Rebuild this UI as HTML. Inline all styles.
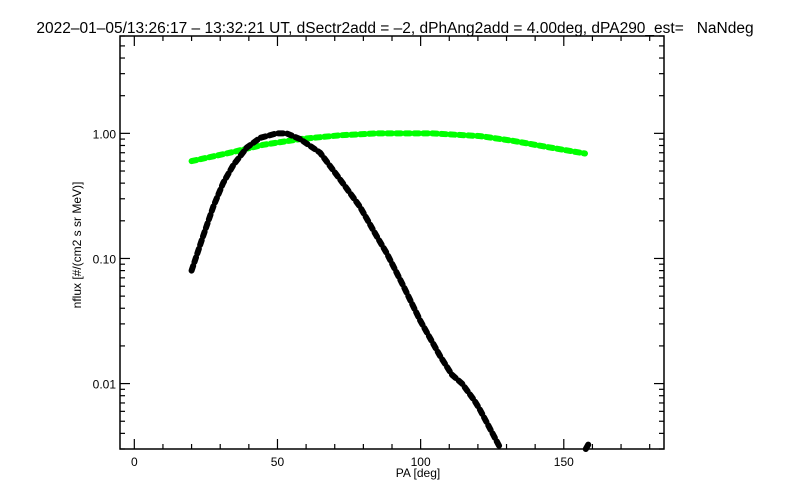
<!DOCTYPE html>
<html><head><meta charset="utf-8"><style>
body{margin:0;background:#fff;}
svg{display:block;font-family:"Liberation Sans",sans-serif;}
</style></head><body>
<svg id="chart" width="800" height="500">
<text x="395" y="33" text-anchor="middle" font-size="15.5" fill="#000" style="white-space:pre">2022–01–05/13:26:17 – 13:32:21 UT, dSectr2add = –2, dPhAng2add = 4.00deg, dPA290_est=   NaNdeg</text>
<text x="418" y="477" text-anchor="middle" font-size="12">PA [deg]</text>
<text transform="translate(81,245) rotate(-90)" text-anchor="middle" font-size="12">nflux [#/(cm2 s sr MeV)]</text>
</svg>
<script>
const xTicks=[0,50,100,150];
const xTickLabels=["0","50","100","150"];
const yTicks=[0.01,0.1,1];
const yTickLabels=["0.01","0.10","1.00"];
const blackPA=[20,24,27.6,31,34.6,39.3,43.9,49.7,53.2,57.9,64.9,71.8,78.8,84.7,88.2,94,99.8,106.8,110.9,114.5,118.8,120.7,128];
const blackFlux=[0.08,0.15,0.26,0.40,0.56,0.77,0.92,1.0,1.0,0.90,0.70,0.43,0.26,0.15,0.11,0.060,0.032,0.0166,0.0118,0.0100,0.0073,0.0062,0.003];
const blackTailPA=[157.7,159];
const blackTailFlux=[0.0030,0.0034];
const greenPA=[20,33.4,45,57.9,71.8,84.7,95,104,120.8,132.4,144,157.4];
const greenFlux=[0.60,0.70,0.81,0.90,0.965,1.0,1.0,1.0,0.95,0.87,0.78,0.69];

const L=120,R=664,T=36,B=449,XMIN=-5,XMAX=185,YMIN=0.003,YMAX=6;
const NS='http://www.w3.org/2000/svg';
const svg=document.getElementById('chart');
function X(v){return L+(v-XMIN)/(XMAX-XMIN)*(R-L);}
function Y(v){return B-(Math.log10(v)-Math.log10(YMIN))/(Math.log10(YMAX)-Math.log10(YMIN))*(B-T);}
function mk(tag,attrs){const e=document.createElementNS(NS,tag);for(const k in attrs)e.setAttribute(k,attrs[k]);svg.appendChild(e);return e;}
function line(x1,y1,x2,y2){return mk('line',{x1:x1,y1:y1,x2:x2,y2:y2,stroke:'#000','stroke-width':1.2});}

const frame=mk('rect',{x:L,y:T,width:R-L,height:B-T,fill:'none',stroke:'#000','stroke-width':1.5});



// x ticks
for(let v=0;v<=180;v+=10){
  const major=v%50===0, len=major?10:5, x=X(v);
  const t1=line(x,B,x,B-len);
  
  
  const t2=line(x,T,x,T+len);
  
  
}
xTicks.forEach((v,i)=>{
  const t=mk('text',{x:X(v),y:B+17,'text-anchor':'middle','font-size':12});
  t.textContent=xTickLabels[i];
  
  
});
// y ticks
for(let d=-3;d<=0;d++){
  for(let m=1;m<=9;m++){
    const v=m*Math.pow(10,d);
    if(v<YMIN-1e-9||v>YMAX+1e-9)continue;
    const len=m===1?10:5,y=Y(v);
    const a=line(L,y,L+len,y);
    
    
    const b=line(R,y,R-len,y);
    
    
  }
}
yTicks.forEach((v,i)=>{
  const t=mk('text',{x:L-4,y:Y(v)+5,'text-anchor':'end','font-size':12});
  t.textContent=yTickLabels[i];
  
  
});
function series(xs,ys,color,name){
  const pts=xs.map((x,i)=>X(x).toFixed(1)+','+Y(ys[i]).toFixed(1)).join(' ');
  const p=mk('polyline',{points:pts,fill:'none',stroke:color,'stroke-width':6,'stroke-linecap':'round','stroke-linejoin':'round','stroke-dasharray':'5 4'});
  
  
}
series(greenPA,greenFlux,'#00ff00','green-series');
series(blackPA,blackFlux,'#000','black-series');
series(blackTailPA,blackTailFlux,'#000','black-series-tail');
</script>
</body></html>
